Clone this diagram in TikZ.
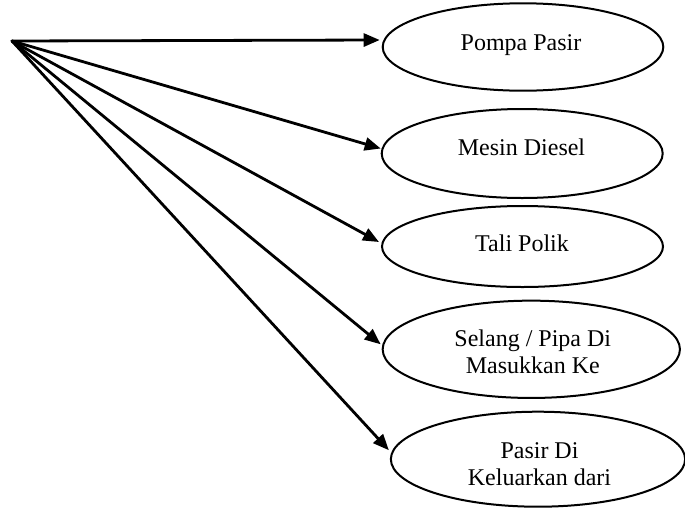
\documentclass[tikz,border=0pt]{standalone}
\usepackage{fontspec}
\setmainfont{Liberation Serif}
\usetikzlibrary{arrows.meta,calc,shapes.geometric}

\tikzset{
  part/.style={ellipse, draw, line width=2pt, inner sep=0pt},
  partlabel/.style={anchor=base, inner sep=0pt, align=center,
    font=\fontsize{24}{26.3}\selectfont},
  feed/.style={line width=2.8pt, line cap=round,
    -{Triangle[length=16pt,width=13pt]}}
}

\begin{document}
\begin{tikzpicture}[x=1pt, y=-1pt]
  \useasboundingbox (0,0) rectangle (685,509);

  % common starting point of all connectors
  \coordinate (o) at (12,41);

  % component ellipses
  \node[part, minimum width=280.6pt, minimum height=87.4pt] (e1) at (523,47) {};
  \node[part, minimum width=281pt,   minimum height=89pt]   (e2) at (522.2,153.5) {};
  \node[part, minimum width=281pt,   minimum height=81pt]   (e3) at (522.5,246.5) {};
  \node[part, minimum width=297.3pt, minimum height=97.3pt] (e4) at (531.3,349.3) {};
  \node[part, minimum width=294.3pt, minimum height=95pt]   (e5) at (538,459.2) {};

  % labels (base anchor sits on the last line)
  \node[partlabel] (l1) at ($(e1.center)+(-2,3)$)     {Pompa Pasir};
  \node[partlabel] (l2) at ($(e2.center)+(-0.7,1.5)$) {Mesin Diesel};
  \node[partlabel] (l3) at ($(e3.center)+(-0.5,4.5)$) {Tali Polik};
  \node[partlabel] (l4) at ($(e4.center)+(1.5,23.7)$) {Selang / Pipa Di\\Masukkan Ke};
  \node[partlabel] (l5) at ($(e5.center)+(1.5,25.8)$) {Pasir Di\\Keluarkan dari};

  % connectors
  \draw[feed] (o) -- ($(e1.west)+(-2,-7)$);
  \draw[feed] (o) -- ($(e2.west)+(0,-5)$);
  \draw[feed] (o) -- ($(e3.west)+(-2,-4.5)$);
  \draw[feed] (o) -- ($(e4.west)+(-1,-5)$);
  \draw[feed] (o) -- ($(e5.west)+(-1,-9)$);
\end{tikzpicture}
\end{document}
